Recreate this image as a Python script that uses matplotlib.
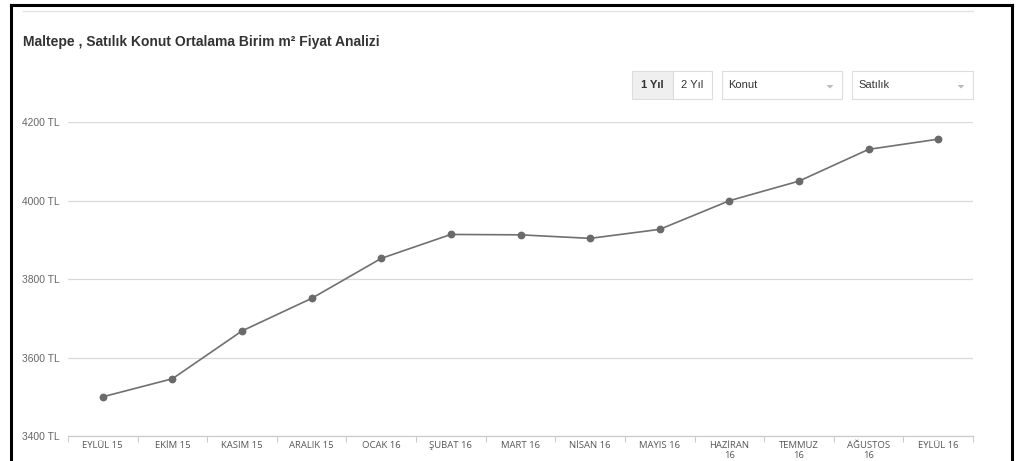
import matplotlib
matplotlib.use("Agg")
import matplotlib.pyplot as plt
from matplotlib.patches import Rectangle, Polygon
from matplotlib.lines import Line2D

# Monthly average sale price per m² (TL)
months = ["EYLÜL 15", "EKİM 15", "KASIM 15", "ARALIK 15", "OCAK 16", "ŞUBAT 16",
          "MART 16", "NİSAN 16", "MAYIS 16", "HAZİRAN\n16", "TEMMUZ\n16",
          "AĞUSTOS\n16", "EYLÜL 16"]
prices = [3500, 3546, 3668, 3751, 3853, 3914, 3913, 3904, 3927, 4000, 4050, 4131, 4157]
y_ticks = [3400, 3600, 3800, 4000, 4200]
y_tick_labels = ["3400 TL", "3600 TL", "3800 TL", "4000 TL", "4200 TL"]

title = "Maltepe , Satılık Konut Ortalama Birim m² Fiyat Analizi"
period_buttons = ["1 Yıl", "2 Yıl"]
dropdowns = ["Konut", "Satılık"]

W, H = 1016, 461
fig = plt.figure(figsize=(W / 100, H / 100), dpi=100)
fig.patch.set_facecolor("white")


def fx(px):
    return px / W


def fy(py):
    return 1 - py / H


# panel frame
frame_kw = dict(transform=fig.transFigure, color="black", lw=2.2, solid_capstyle="projecting")
fig.add_artist(Line2D([fx(11), fx(1012)], [fy(5), fy(5)], **frame_kw))
fig.add_artist(Line2D([fx(11), fx(11)], [fy(5), fy(H + 5)], **frame_kw))
fig.add_artist(Line2D([fx(1012), fx(1012)], [fy(5), fy(H + 5)], **frame_kw))
fig.add_artist(Line2D([fx(23), fx(973)], [fy(11), fy(11)], transform=fig.transFigure,
                      color="#e2e2e2", lw=1))

# header
fig.text(fx(23), fy(42), title, fontsize=10, fontweight="bold", color="#333333",
         family="Liberation Sans", va="center", ha="left")

# period toggle buttons
btn_edges = [(632, 673), (673, 712)]
for (x0, x1), label, active in zip(btn_edges, period_buttons, [True, False]):
    fig.add_artist(Rectangle((fx(x0), fy(99)), fx(x1 - x0), 28 / H, transform=fig.transFigure,
                             facecolor="#efefef" if active else "white",
                             edgecolor="#dddddd", lw=0.8))
    fig.text(fx((x0 + x1) / 2), fy(85.5), label, fontsize=8, color="#333333",
             fontweight="bold" if active else "normal", family="Liberation Sans",
             ha="center", va="center")

# select boxes
dd_edges = [(722, 842), (852, 973)]
for (x0, x1), label in zip(dd_edges, dropdowns):
    fig.add_artist(Rectangle((fx(x0), fy(99)), fx(x1 - x0), 28 / H, transform=fig.transFigure,
                             facecolor="white", edgecolor="#dddddd", lw=0.8))
    fig.text(fx(x0 + 6), fy(85.5), label, fontsize=8, color="#333333",
             family="Liberation Sans", ha="left", va="center")
    ax_ = x1 - 12
    fig.add_artist(Polygon([[fx(ax_ - 3.5), fy(85)], [fx(ax_ + 3.5), fy(85)], [fx(ax_), fy(88.5)]],
                           closed=True, transform=fig.transFigure, facecolor="#bbbbbb",
                           edgecolor="none"))

# chart area
left, right, top, bottom = 68, 973, 122.3, 436
ax = fig.add_axes([fx(left), fy(bottom), fx(right - left), (bottom - top) / H])
x = list(range(len(months)))
ax.plot(x, prices, color="#707070", lw=1.2, marker="o", markersize=4.6,
        markerfacecolor="#6a6a6a", markeredgecolor="#6a6a6a", clip_on=False, zorder=3)

ax.set_xlim(-0.5, len(months) - 0.5)
ax.set_ylim(y_ticks[0], y_ticks[-1])
ax.set_yticks(y_ticks)
ax.set_yticklabels(y_tick_labels, fontsize=7.4, color="#666666", family="Liberation Sans")
ax.set_xticks(x)
ax.set_xticklabels(months, fontsize=6.8, color="#555555", family="Open Sans",
                   linespacing=1.15, va="top")
ax.set_xticks([i - 0.5 for i in range(len(months) + 1)], minor=True)
ax.tick_params(axis="x", which="major", length=0, pad=3.5)
ax.tick_params(axis="x", which="minor", length=4, color="#cccccc", width=0.8, direction="out")
ax.tick_params(axis="y", length=0, pad=6)
ax.grid(axis="y", color="#d9d9d9", lw=0.9)
ax.set_axisbelow(True)
for side in ["top", "right", "left"]:
    ax.spines[side].set_visible(False)
ax.spines["bottom"].set_color("#cccccc")
ax.spines["bottom"].set_linewidth(0.9)
ax.set_facecolor("white")

fig.savefig("out.png", dpi=100, facecolor="white")
